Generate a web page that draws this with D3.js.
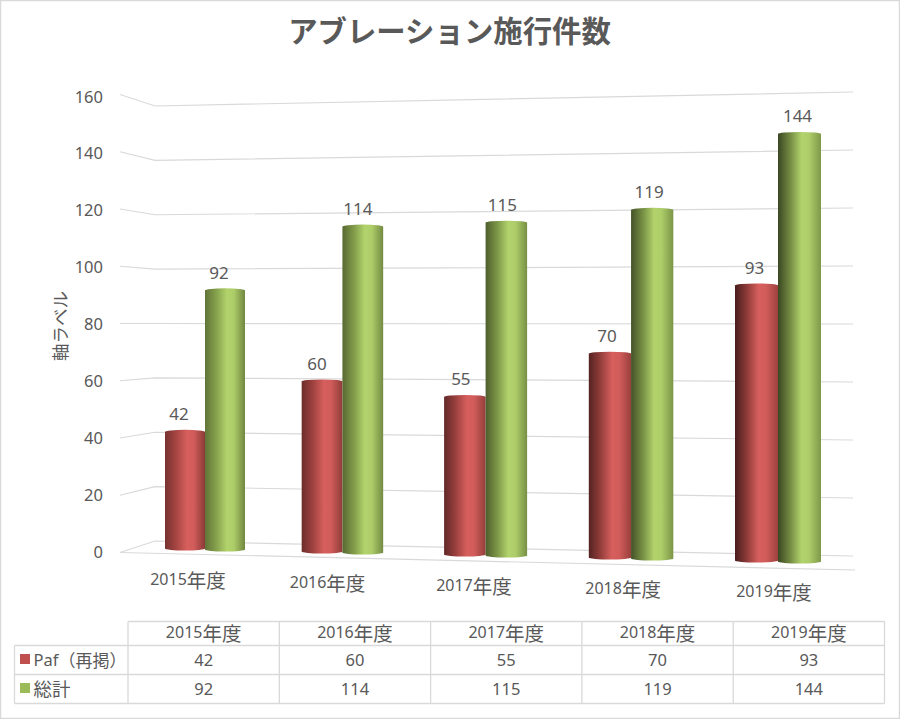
<!DOCTYPE html>
<html><head><meta charset="utf-8">
<script src="https://cdn.jsdelivr.net/npm/d3@7"></script>
<style>
html,body{margin:0;padding:0;background:#fff}
svg{display:block}
text{font-family:"Noto Sans","Noto Sans CJK JP",sans-serif;fill:#595959}
</style></head><body><div id="c"></div>
<script>
const title = "アブレーション施行件数";
const axisTitle = "軸ラベル";
const categories = ["2015年度","2016年度","2017年度","2018年度","2019年度"];
const seriesNames = ["Paf（再掲）","総計"];
const pafValues = [42,60,55,70,93];
const totalValues = [92,114,115,119,144];
const yTicks = [0,20,40,60,80,100,120,140,160];

const W=900,H=719;
const svg=d3.select("#c").append("svg").attr("width",W).attr("height",H);
const defs=svg.append("defs");

svg.append("rect").attr("x",0.5).attr("y",0.5).attr("width",W-1).attr("height",H-1)
  .attr("fill","#fff").attr("stroke","#d9d9d9").attr("stroke-width",1.5);

// mixed-script text: latin digits at the base size, CJK runs slightly larger
function mixed(sel,str,cjkSize){
  str.split(/([^\x00-\x7f]+)/).filter(Boolean).forEach(run=>{
    const t=sel.append("tspan").text(run);
    if(/[^\x00-\x7f]/.test(run)) t.attr("font-size",cjkSize).style("font-family",'"Noto Sans CJK JP",sans-serif');
  });
}

svg.append("text").attr("x",449.5).attr("y",42).attr("text-anchor","middle")
  .attr("font-size",29.4).attr("font-weight",700).style("font-family",'"Noto Sans CJK JP",sans-serif').text(title);

const dom=[0,160];
const sideY=d3.scaleLinear().domain(dom).range([552.5,94.5]);
const tickLabelY=d3.scaleLinear().domain(dom).range([551.5,96]);
const backLeftY=d3.scaleLinear().domain(dom).range([541,106]);
const backRightY=d3.scaleLinear().domain(dom).range([556,92]);
const wallX={side:120,backLeft:155,backRight:853};

const grid=svg.append("g").attr("fill","none").attr("stroke","#d9d9d9").attr("stroke-width",1.2);
const wallLine=d3.line();
yTicks.forEach(t=>{
  grid.append("path").attr("d",wallLine([[wallX.side,sideY(t)],[wallX.backLeft,backLeftY(t)],[wallX.backRight,backRightY(t)]]));
});
grid.append("path").attr("d",wallLine([[wallX.side,sideY(0)],[855,570]]));

svg.append("g").selectAll("text").data(yTicks).join("text")
  .attr("x",103).attr("y",d=>tickLabelY(d)).attr("text-anchor","end").attr("dominant-baseline","central")
  .attr("font-size",16.5).text(d=>d);

svg.append("text").attr("transform","translate(59,326) rotate(-90)").attr("text-anchor","middle")
  .attr("dominant-baseline","central").attr("font-size",17.5).style("font-family",'"Noto Sans CJK JP",sans-serif').text(axisTitle);

const idx=[0,4];
const splitX=d3.scalePow().exponent(1.03).domain(idx).range([205,778]);
const barW=d3.scaleLinear().domain(idx).range([40,43]);
const baseY=d3.scaleLinear().domain(idx).range([550.5,562.5]);
const unitH=d3.scaleLinear().domain(idx).range([2.85,2.99]);
const leftDark=d3.scaleLinear().domain(idx).range([0.62,0.38]);
const rightDark=d3.scaleLinear().domain(idx).range([0.72,0.82]);
const labelShift=d3.scaleLinear().domain(idx).range([-6,-2]);

const palette=[{base:"#c0504d",hi:"#d75f5d"},{base:"#9bbb59",hi:"#b2d36c"}];

function gradFor(s,i){
  const id=`g${s}_${i}`, p=palette[s];
  const g=defs.append("linearGradient").attr("id",id);
  const scale=(c,k)=>{const r=d3.rgb(c);return d3.rgb(r.r*k,r.g*k,r.b*k).formatHex();};
  [[0,scale(p.base,leftDark(i))],[0.28,scale(p.base,(leftDark(i)+1)/2+0.05)],[0.55,p.hi],[0.72,scale(p.hi,0.97)],[1,scale(p.base,rightDark(i))]]
    .forEach(([o,c])=>g.append("stop").attr("offset",o).attr("stop-color",c));
  return id;
}
function cyl(x0,w,top,bot){
  const rx=w/2, ry=2;
  return `M${x0},${top}A${rx},${ry} 0 0 1 ${x0+w},${top}L${x0+w},${bot}A${rx},${ry} 0 0 1 ${x0},${bot}Z`;
}
const rows=[pafValues,totalValues];
const barsG=svg.append("g");
categories.forEach((c,i)=>{
  rows.forEach((vals,s)=>{
    const w=barW(i), x0=s===0?splitX(i)-w:splitX(i);
    const bot=baseY(i)+s-2, top=baseY(i)+s-vals[i]*unitH(i)+1;
    barsG.append("path").attr("d",cyl(x0,w,top,bot)).attr("fill",`url(#${gradFor(s,i)})`);
    barsG.append("text").attr("x",x0+w/2+labelShift(i)).attr("y",top-18).attr("text-anchor","middle")
      .attr("dominant-baseline","central").attr("font-size",17).text(vals[i]);
  });
});

const labelX=d3.scalePow().exponent(1.035).domain(idx).range([188,774]);
const labelY=d3.scaleLinear().domain(idx).range([579,591]);
svg.append("g").selectAll("text").data(categories).join("text")
  .attr("x",(d,i)=>labelX(i)).attr("y",(d,i)=>labelY(i)).attr("text-anchor","middle")
  .attr("dominant-baseline","central").attr("font-size",16)
  .each(function(d){mixed(d3.select(this),d,19.5);});

const colX=d3.scaleLinear().domain([0,5]).range([128,884.5]);
const rowY=[621.5,645.5,674.5,703.5];
const tableLeft=14.5;
const tbl=svg.append("g");
const ln=(x1,y1,x2,y2)=>tbl.append("line").attr("x1",x1).attr("y1",y1).attr("x2",x2).attr("y2",y2)
  .attr("stroke","#d9d9d9").attr("stroke-width",1.3);
ln(colX(0),rowY[0],colX(5),rowY[0]);
rowY.slice(1).forEach(y=>ln(tableLeft,y,colX(5),y));
d3.range(6).forEach(i=>ln(colX(i),rowY[0],colX(i),rowY[3]));
ln(tableLeft,rowY[1],tableLeft,rowY[3]);
categories.forEach((c,i)=>{
  const cx=(colX(i)+colX(i+1))/2;
  const h=tbl.append("text").attr("x",cx).attr("y",(rowY[0]+rowY[1])/2-1.5).attr("text-anchor","middle")
    .attr("dominant-baseline","central").attr("font-size",16);
  mixed(h,c,19.5);
  rows.forEach((vals,s)=>{
    tbl.append("text").attr("x",cx).attr("y",(rowY[s+1]+rowY[s+2])/2-1).attr("text-anchor","middle")
      .attr("dominant-baseline","central").attr("font-size",16.5).text(vals[i]);
  });
});
seriesNames.forEach((n,s)=>{
  const cy=(rowY[s+1]+rowY[s+2])/2-1;
  tbl.append("rect").attr("x",20).attr("y",cy-5).attr("width",10).attr("height",10).attr("fill",palette[s].base);
  const t=tbl.append("text").attr("x",33.5).attr("y",cy).attr("dominant-baseline","central").attr("font-size",16.5);
  mixed(t,n,s===0?17:18.5);
});
</script></body></html>
